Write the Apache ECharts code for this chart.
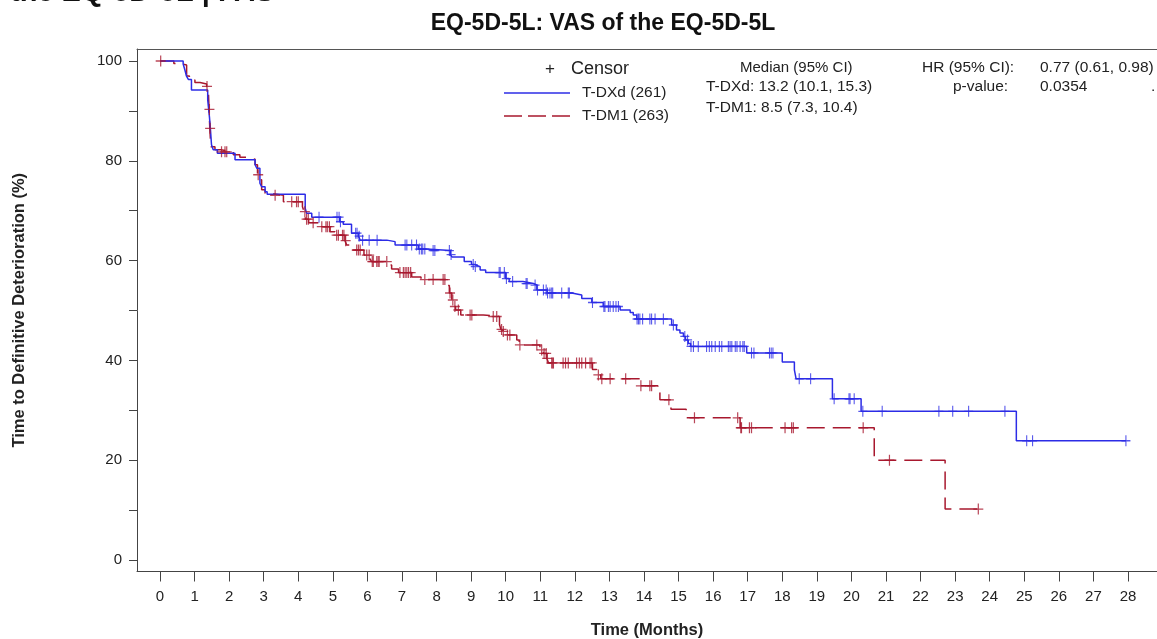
<!DOCTYPE html>
<html>
<head>
<meta charset="utf-8">
<script src="https://cdn.jsdelivr.net/npm/echarts@6/dist/echarts.min.js"></script>
<style>
  html, body { margin: 0; padding: 0; background: #fff; }
  #km { width: 1157px; height: 639px; }
</style>
</head>
<body>
<div id="km"></div>
<script>
// ---- data ----
var xTicks = [0,1,2,3,4,5,6,7,8,9,10,11,12,13,14,15,16,17,18,19,20,21,22,23,24,25,26,27,28];
var yTicks = [0,10,20,30,40,50,60,70,80,90,100];
var yLabels = [0,20,40,60,80,100];

// T-DXd step points: [month, survival %]
var dxdSteps = [
  [0,100],[0.67,99.4],[0.72,98.2],[0.77,96.9],[0.82,96.3],[0.91,94.2],[1.38,92.2],[1.43,88.8],
  [1.46,86.2],[1.49,83.2],[1.54,82.2],[1.66,81.5],[2.17,80.2],[2.75,79.2],[2.8,78.5],[2.89,75.5],
  [2.94,74.8],[3.04,73.8],[3.1,73.3],[4.2,70.5],[4.24,69.5],[4.39,68.7],[5.2,67.8],[5.3,67.3],
  [5.54,65.5],[5.74,64.9],[5.79,64.1],[6.56,63.8],[6.8,63.1],[7.47,62.3],[7.7,62.0],[8.4,61.2],
  [8.45,60.7],[8.8,59.8],[9.01,59.2],[9.11,58.8],[9.26,58.1],[9.42,57.6],[10.0,56.4],[10.1,55.8],
  [10.5,55.4],[10.8,55.1],[10.9,54.1],[11.2,53.5],[11.91,53.1],[12.2,52.4],[12.49,51.6],[12.82,50.8],
  [13.31,50.1],[13.6,49.6],[13.69,49.1],[13.79,48.3],[14.8,47.1],[14.94,46.1],[15.04,45.5],[15.14,44.8],
  [15.2,44.1],[15.28,43.4],[15.35,42.8],[16.97,41.5],[18.0,39.7],[18.35,38.1],[18.4,36.3],[19.45,32.3],
  [20.28,29.8],[24.77,23.9],[27.94,23.9]
];
var dxdCensor = [
  4.6,5.12,5.18,5.22,5.66,5.7,5.76,5.86,6.05,6.28,7.09,7.14,7.28,7.42,7.5,7.56,7.6,7.66,7.9,7.95,
  8.37,8.42,9.06,9.12,9.81,9.84,9.96,10.02,10.2,10.59,10.62,10.85,10.92,11.09,11.17,11.21,11.28,11.33,
  11.36,11.62,11.81,11.84,12.51,12.84,12.87,12.97,13.02,13.11,13.19,13.26,13.8,13.84,13.88,13.96,14.17,
  14.22,14.32,14.56,14.85,15.18,15.26,15.36,15.43,15.57,15.81,15.89,15.96,16.06,16.18,16.25,16.44,16.49,
  16.54,16.64,16.69,16.78,16.86,16.9,17.11,17.18,17.63,17.68,17.73,18.49,18.82,19.5,19.93,19.96,20.08,
  20.33,20.89,22.53,22.93,23.39,24.44,25.07,25.24,27.94
];

// T-DM1 step points: [month, survival %]
var dm1Steps = [
  [0,100],[0.4,99.5],[0.56,99.2],[0.77,97.0],[0.85,96.2],[1.01,95.7],[1.16,95.4],[1.35,94.9],
  [1.4,93.9],[1.42,90.3],[1.44,86.5],[1.47,82.8],[1.59,82.2],[1.75,81.8],[2.12,81.2],[2.31,80.7],
  [2.55,80.3],[2.75,79.2],[2.82,77.2],[2.87,76.2],[2.94,74.2],[3.04,73.5],[3.2,73.1],[3.57,71.8],
  [4.12,70.8],[4.17,69.8],[4.21,68.3],[4.3,67.6],[4.67,66.8],[4.92,65.8],[5.06,65.1],[5.35,64.0],
  [5.4,63.1],[5.54,62.1],[5.9,61.1],[6.07,60.4],[6.12,59.8],[6.6,59.1],[6.7,58.3],[6.9,57.6],
  [7.28,56.7],[7.55,56.2],[8.27,55.0],[8.37,53.5],[8.44,52.1],[8.48,50.8],[8.55,50.1],[8.7,49.1],
  [9.35,48.8],[9.82,47.2],[9.86,46.2],[9.9,45.8],[10.0,45.1],[10.32,44.1],[10.39,43.1],[10.99,42.1],
  [11.09,41.4],[11.19,40.4],[11.24,39.5],[12.51,38.2],[12.63,37.1],[12.75,36.3],[13.89,34.9],[14.4,33.5],
  [14.46,32.1],[14.78,30.2],[15.22,28.5],[16.78,26.5],[20.66,20.0],[22.71,10.2],[23.77,10.2]
];
var dm1Censor = [
  0.02,1.36,1.43,1.45,1.78,1.88,1.93,2.84,3.33,3.81,3.95,4.0,4.19,4.24,4.29,4.43,4.68,4.8,4.84,4.9,
  5.11,5.16,5.28,5.32,5.37,5.69,5.74,5.79,5.98,6.05,6.14,6.17,6.27,6.31,6.34,6.56,6.94,7.04,7.09,7.14,
  7.19,7.25,7.66,7.9,8.19,8.24,8.39,8.47,8.53,8.63,8.97,9.02,9.64,9.74,9.88,9.93,10.05,10.12,10.41,10.9,
  11.04,11.11,11.17,11.2,11.33,11.36,11.38,11.66,11.73,11.81,12.05,12.13,12.2,12.31,12.44,12.49,12.68,
  12.78,13.02,13.47,13.91,14.17,14.22,14.72,15.46,16.71,16.8,16.82,17.05,17.11,18.08,18.27,18.32,20.34,
  21.1,23.67
];

var blue = '#2c2ce6';
var red = '#a8182e';
var sans = "'Liberation Sans', Arial, sans-serif";
var plus = 'path://M0,4.4H10V5.6H0Z M4.4,0H5.6V10H4.4Z';
var xMin = -0.6653, xMax = 28.839;

function survAt(steps, t) {
  var s = steps[0][1];
  for (var i = 0; i < steps.length; i++) {
    if (steps[i][0] <= t) s = steps[i][1]; else break;
  }
  return s;
}
function censorPoints(steps, times) {
  return times.map(function (t) { return [t, survAt(steps, t)]; });
}

var dom = document.getElementById('km');
var myChart = echarts.init(dom);

var option = {
  animation: false,
  title: {
    text: 'EQ-5D-5L: VAS of the EQ-5D-5L',
    left: 598, top: 7, textAlign: 'center',
    textStyle: { fontFamily: sans, fontWeight: 'bold', fontSize: 23, color: '#111' }
  },
  grid: { left: 137, top: 49, right: 0, height: 522.5, show: false, outerBoundsMode: 'none' },
  xAxis: [{
    type: 'value', min: xMin, max: xMax,
    name: 'Time (Months)',
    nameLocation: 'middle', nameGap: 50,
    nameTextStyle: { fontFamily: sans, fontWeight: 'bold', fontSize: 16.5, color: '#222' },
    axisLine: { show: true, onZero: false, lineStyle: { color: '#444' } },
    axisTick: { show: true, length: 10, customValues: xTicks, lineStyle: { color: '#444' } },
    axisLabel: { customValues: xTicks, margin: 18, fontFamily: sans, fontSize: 15, color: '#222' },
    splitLine: { show: false }
  }, {
    type: 'value', position: 'top', min: xMin, max: xMax,
    axisLine: { show: true, onZero: false, lineStyle: { color: '#555' } },
    axisTick: { show: false }, axisLabel: { show: false }, splitLine: { show: false }
  }],
  yAxis: {
    type: 'value', min: -2.3, max: 102.4,
    name: 'Time to Definitive Deterioration (%)',
    nameLocation: 'middle', nameGap: 109,
    nameTextStyle: { fontFamily: sans, fontWeight: 'bold', fontSize: 16.5, color: '#222' },
    axisLine: { show: true, onZero: false, lineStyle: { color: '#444' } },
    axisTick: { show: true, length: 8, customValues: yTicks, lineStyle: { color: '#444' } },
    axisLabel: { customValues: yLabels, margin: 15, fontFamily: sans, fontSize: 15, color: '#222' },
    splitLine: { show: false }
  },
  graphic: [
    { type: 'text', left: 10, top: -22, style: { text: 'the EQ-5D-5L | FAS', font: "bold 29px " + sans, fill: '#111' } },
    // legend
    { type: 'text', left: 545, top: 61, style: { text: '+', font: "17px " + sans, fill: '#222' } },
    { type: 'text', left: 571, top: 60, style: { text: 'Censor', font: "18px " + sans, fill: '#222' } },
    { type: 'line', shape: { x1: 504, y1: 93, x2: 570, y2: 93 }, style: { stroke: blue, lineWidth: 1.5 } },
    { type: 'text', left: 582, top: 85, style: { text: 'T-DXd (261)', font: "15.5px " + sans, fill: '#222' } },
    { type: 'line', shape: { x1: 504, y1: 116, x2: 570, y2: 116 }, style: { stroke: red, lineWidth: 1.5, lineDash: [18, 6] } },
    { type: 'text', left: 582, top: 108, style: { text: 'T-DM1 (263)', font: "15.5px " + sans, fill: '#222' } },
    // statistics
    { type: 'text', left: 740, top: 60, style: { text: 'Median (95% CI)', font: "15px " + sans, fill: '#222' } },
    { type: 'text', left: 706, top: 79, style: { text: 'T-DXd: 13.2 (10.1, 15.3)', font: "15.5px " + sans, fill: '#222' } },
    { type: 'text', left: 706, top: 100, style: { text: 'T-DM1: 8.5 (7.3, 10.4)', font: "15.5px " + sans, fill: '#222' } },
    { type: 'text', left: 922, top: 60, style: { text: 'HR (95% CI):', font: "15.5px " + sans, fill: '#222' } },
    { type: 'text', left: 1040, top: 60, style: { text: '0.77 (0.61, 0.98)', font: "15.5px " + sans, fill: '#222' } },
    { type: 'text', left: 953, top: 79, style: { text: 'p-value:', font: "15.5px " + sans, fill: '#222' } },
    { type: 'text', left: 1040, top: 79, style: { text: '0.0354', font: "15.5px " + sans, fill: '#222' } },
    { type: 'text', left: 1151, top: 79, style: { text: '.', font: "15.5px " + sans, fill: '#222' } }
  ],
  series: [
    {
      name: 'T-DXd (261)', type: 'line', step: 'end', showSymbol: false, symbol: 'none',
      lineStyle: { color: blue, width: 1.5 }, itemStyle: { color: blue },
      data: dxdSteps, z: 3
    },
    {
      name: 'T-DM1 (263)', type: 'line', step: 'end', showSymbol: false, symbol: 'none',
      lineStyle: { color: red, width: 1.5, type: [18, 8] }, itemStyle: { color: red },
      data: dm1Steps, z: 2
    },
    {
      name: 'T-DXd censor', type: 'scatter', symbol: plus, symbolSize: [9, 11],
      itemStyle: { color: blue }, data: censorPoints(dxdSteps, dxdCensor), z: 4
    },
    {
      name: 'T-DM1 censor', type: 'scatter', symbol: plus, symbolSize: [10, 11],
      itemStyle: { color: red }, data: censorPoints(dm1Steps, dm1Censor), z: 4
    }
  ]
};

if (option && typeof option === 'object') {
  myChart.setOption(option, false);
}
</script>
</body>
</html>
